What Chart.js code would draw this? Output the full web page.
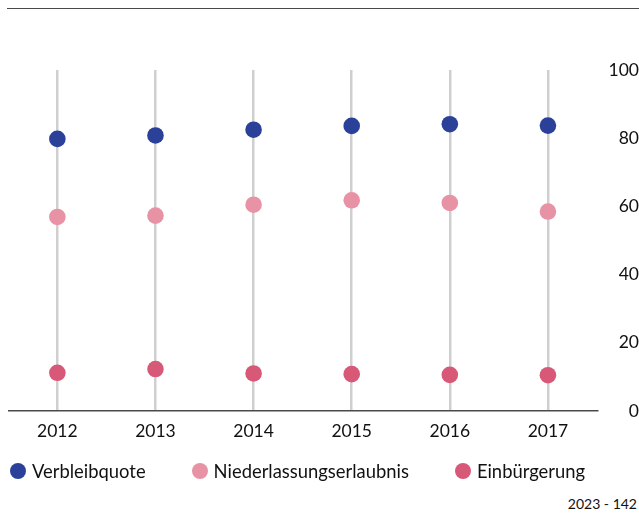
<!DOCTYPE html>
<html>
<head>
<meta charset="utf-8">
<script src="https://cdn.jsdelivr.net/npm/chart.js@4"></script>
<style>
  body { margin: 0; background: #fff; font-family: Lato, "Noto Sans", sans-serif; color: #111; }
  #wrap { position: relative; width: 639px; height: 514px; overflow: hidden; }
  #topline { position: absolute; top: 8px; left: 7px; right: 0; border-top: 1.5px solid #4a4a4a; }
  #chartbox { position: absolute; top: 0; left: 0; width: 639px; height: 462px; }
  #legend { position: absolute; top: 460px; left: 10px; display: flex; align-items: center; font-size: 18.4px; }
  #legend .item { display: flex; align-items: center; margin-right: 46px; }
  #legend .dot { width: 16px; height: 16px; border-radius: 50%; margin-right: 6px; }
  #source { position: absolute; right: 2px; top: 495px; font-size: 14px; }
</style>
</head>
<body>
<div id="wrap">
  <div id="topline"></div>
  <div id="chartbox"><canvas id="chart"></canvas></div>
  <div id="legend"></div>
  <div id="source">2023 - 142</div>
</div>
<script>
const years = ["2012", "2013", "2014", "2015", "2016", "2017"];
const verbleibquote = [79.8, 80.8, 82.5, 83.6, 84.1, 83.7];
const niederlassung = [56.9, 57.3, 60.5, 61.8, 61.0, 58.5];
const einbuergerung = [11.2, 12.3, 11.0, 10.8, 10.6, 10.5];
const seriesNames = ["Verbleibquote", "Niederlassungserlaubnis", "Einbürgerung"];
const seriesColors = ["#2b4199", "#e793a5", "#d85878"];
const yTicks = [0, 20, 40, 60, 80, 100];

const allSeries = [verbleibquote, niederlassung, einbuergerung];

const data = {
  labels: years,
  datasets: allSeries.map((vals, i) => ({
    label: seriesNames[i],
    data: vals,
    showLine: false,
    pointRadius: 8.3,
    pointHoverRadius: 8.3,
    pointBorderWidth: 0,
    backgroundColor: seriesColors[i],
    borderColor: seriesColors[i]
  }))
};

const tickFont = { family: "Lato", size: 17.5 };

const config = {
  type: 'line',
  data: data,
  options: {
    responsive: true,
    maintainAspectRatio: false,
    animation: false,
    layout: { padding: { top: 70, left: 8, right: 0, bottom: 10 } },
    plugins: {
      legend: { display: false },
      tooltip: { enabled: false }
    },
    scales: {
      x: {
        offset: true,
        grid: { offset: false, color: '#cfcfcf', lineWidth: 2.5, drawTicks: false },
        border: { display: true, color: '#4a4a4a', width: 1.5 },
        ticks: { color: '#111', font: tickFont, padding: 10 }
      },
      y: {
        position: 'right',
        min: 0,
        max: 100,
        afterBuildTicks: (scale) => { scale.ticks = yTicks.map(v => ({ value: v })); },
        afterFit: (scale) => { scale.width = 42; },
        grid: { display: false, drawTicks: false },
        border: { display: false },
        ticks: { color: '#111', font: tickFont, padding: 10, crossAlign: 'far' }
      }
    }
  }
};

const chart = new Chart(document.getElementById('chart'), config);

// legend
const legend = document.getElementById('legend');
chart.data.datasets.forEach(ds => {
  const item = document.createElement('div');
  item.className = 'item';
  item.innerHTML = '<span class="dot" style="background:' + ds.backgroundColor + '"></span>' + ds.label;
  legend.appendChild(item);
});
</script>
</body>
</html>
